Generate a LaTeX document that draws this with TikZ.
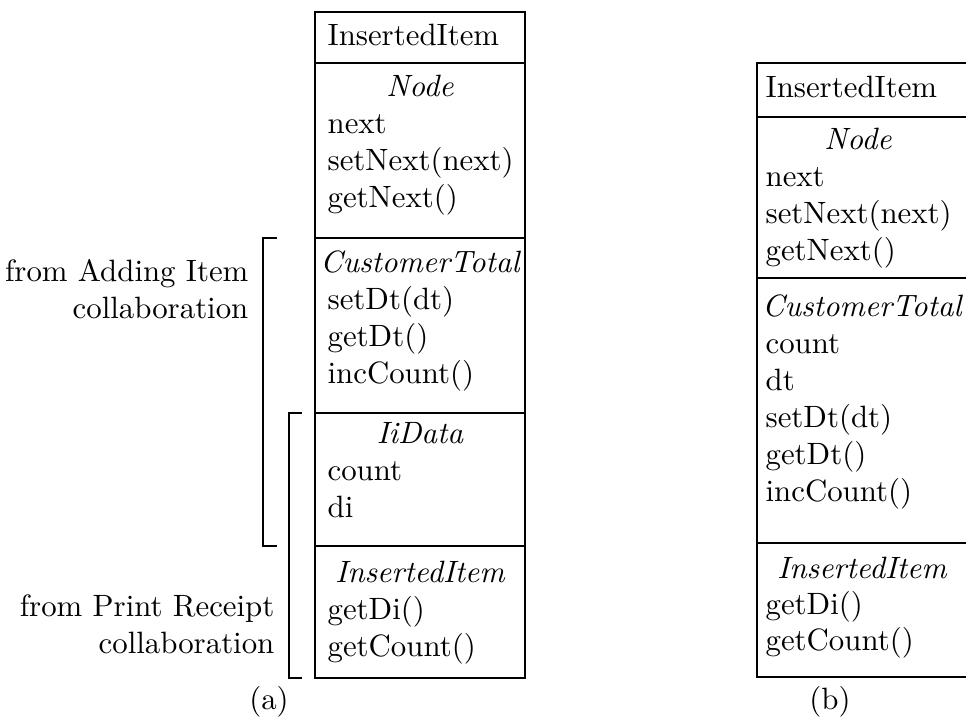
\documentclass[tikz,border=0pt]{standalone}
\begin{document}
\begin{tikzpicture}[x=0.3243pt,y=-0.3243pt,
  every node/.style={inner sep=0pt, font=\fontsize{10}{12}\selectfont},
  member/.style={anchor=base west},
  heading/.style={anchor=base, font=\fontsize{10}{12}\selectfont\itshape},
  remark/.style={anchor=base east},
  caption/.style={anchor=base},
  frame/.style={line width=0.65pt},
  bracket/.style={line width=0.65pt}]
\useasboundingbox (0,0) rectangle (966,728);
\clip (0,0) rectangle (966,728);

% ---------- class (a) ----------
\draw[frame] (315,12) rectangle (525,678);
\foreach \y in {63,238,413,546} \draw[frame] (315,\y) -- (525,\y);

\node[member] (a-name) at (327,46) {InsertedItem};
\node[heading] (a-node) at (420,97) {Node};
\node[member] (a-next) at (327,134) {next};
\node[member] (a-setnext) at (327,171) {setNext(next)};
\node[member] (a-getnext) at (327,208) {getNext()};
\node[heading] (a-ct) at (420,273) {CustomerTotal};
\node[member] (a-setdt) at (327,310) {setDt(dt)};
\node[member] (a-getdt) at (327,347) {getDt()};
\node[member] (a-inc) at (327,384) {incCount()};
\node[heading] (a-ii) at (420,444) {IiData};
\node[member] (a-count) at (327,481) {count};
\node[member] (a-di) at (327,518) {di};
\node[heading] (a-item) at (420,583) {InsertedItem};
\node[member] (a-getdi) at (327,620) {getDi()};
\node[member] (a-getcount) at (327,657) {getCount()};

% collaboration brackets
\coordinate (o-top) at (277,238);
\coordinate (o-bot) at (277,546);
\draw[bracket] (o-top) -- ++(-14,0) |- (o-bot);
\coordinate (i-top) at (302,413);
\coordinate (i-bot) at (302,678);
\draw[bracket] (i-top) -- ++(-13,0) |- (i-bot);

\node[remark] (adding1) at (249,282) {from Adding Item};
\node[remark] (adding2) at (249,319) {collaboration};
\node[remark] (print1) at (275,617) {from Print Receipt};
\node[remark] (print2) at (275,654) {collaboration};

\node[caption] (cap-a) at (269,710) {(a)};

% ---------- class (b) ----------
\draw[frame] (757,63) rectangle (972,677);
\foreach \y in {117,278,543} \draw[frame] (757,\y) -- (972,\y);

\node[member] (b-name) at (765,98) {InsertedItem};
\node[heading] (b-node) at (858,150) {Node};
\node[member] (b-next) at (765,187) {next};
\node[member] (b-setnext) at (765,224) {setNext(next)};
\node[member] (b-getnext) at (765,261) {getNext()};
\node[heading] (b-ct) at (862,317) {CustomerTotal};
\node[member] (b-count) at (765,354) {count};
\node[member] (b-dt) at (765,391) {dt};
\node[member] (b-setdt) at (765,428) {setDt(dt)};
\node[member] (b-getdt) at (765,465) {getDt()};
\node[member] (b-inc) at (765,502) {incCount()};
\node[heading] (b-item) at (862,579) {InsertedItem};
\node[member] (b-getdi) at (765,615) {getDi()};
\node[member] (b-getcount) at (765,651) {getCount()};

\node[caption] (cap-b) at (830,710) {(b)};
\end{tikzpicture}
\end{document}
